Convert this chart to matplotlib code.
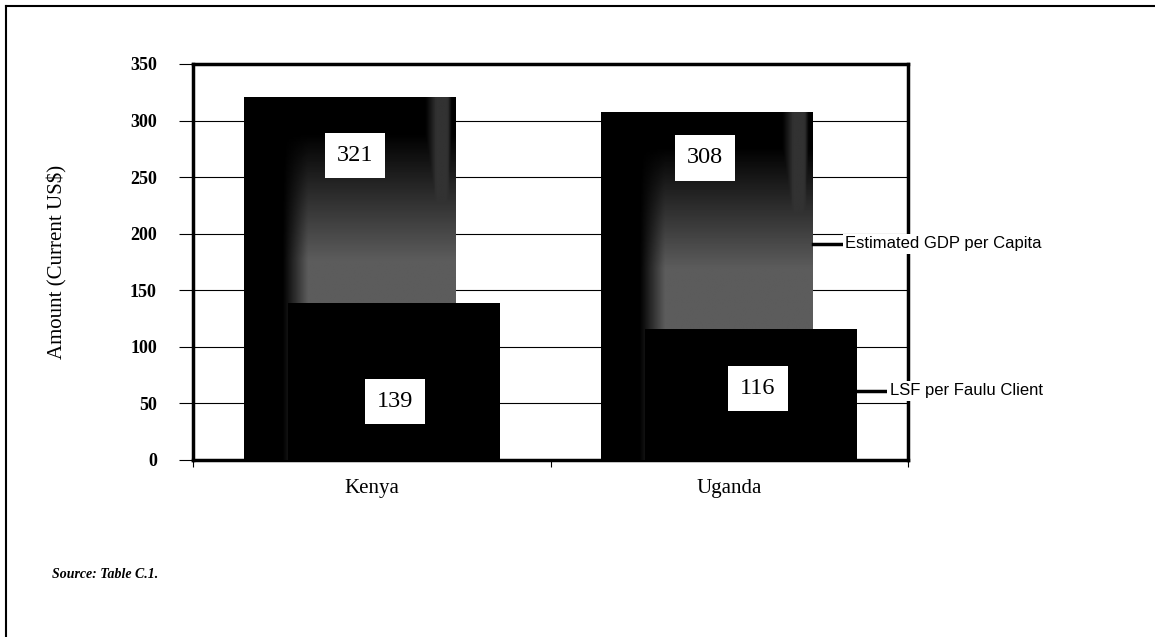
import matplotlib
matplotlib.use('Agg')
import matplotlib.pyplot as plt
from matplotlib.lines import Line2D
import numpy as np

# data
categories = ['Kenya', 'Uganda']
gdp_per_capita = [321, 308]
lsf_per_client = [139, 116]
series_names = ['Estimated GDP per Capita', 'LSF per Faulu Client']
y_ticks = [0, 50, 100, 150, 200, 250, 300, 350]

# label placement (data coords), not data
gdp_label_pos = [(0.453, 269), (1.432, 267)]
lsf_label_pos = [(0.565, 52), (1.580, 63)]
leader_y = [191, 61]

SERIF = 'Liberation Serif'
SANS = 'Liberation Sans'

fig = plt.figure(figsize=(11.55, 6.37), dpi=100)
ax = fig.add_axes([193/1155, 1 - 460/637, 715/1155, 396/637])

x = np.arange(len(categories)) + 0.5
width = 0.593
shift = 0.062

gdp_bars = ax.bar(x - shift, gdp_per_capita, width, color='black', zorder=2)
lsf_bars = ax.bar(x + shift, lsf_per_client, width, color='black', zorder=4)

# scanned-looking grey shading inside the GDP bars
ny, nx = 200, 120
yf = np.linspace(1, 0, ny)[:, None]
xf = np.linspace(0, 1, nx)[None, :]
hx = np.clip((xf - 0.18) / 0.12, 0, 1)
vy = np.clip((0.90 - yf) / 0.35, 0, 1)
edge = np.clip((xf - 0.86) / 0.05, 0, 1) * np.clip((0.985 - xf) / 0.02, 0, 1)
shade = 0.36 * hx * np.maximum(vy, 0.55 * edge)
for bar in gdp_bars:
    x0, h = bar.get_x(), bar.get_height()
    im = ax.imshow(shade, extent=(x0, x0 + bar.get_width(), 0, h), cmap='gray',
                   vmin=0, vmax=1, aspect='auto', interpolation='bilinear', zorder=3)
    im.set_clip_path(bar)

# value boxes
box = dict(boxstyle='square,pad=0.5', fc='white', ec='none')
for (px, py), v in zip(gdp_label_pos, gdp_per_capita):
    ax.text(px, py, str(v), ha='center', va='center', fontsize=17.5, family=SERIF,
            bbox=box, zorder=6)
for (px, py), v in zip(lsf_label_pos, lsf_per_client):
    ax.text(px, py, str(v), ha='center', va='center', fontsize=17.5, family=SERIF,
            bbox=box, zorder=6)

# series labels with leader lines off the Uganda bars
for bars, name, ly in zip([gdp_bars, lsf_bars], series_names, leader_y):
    b = bars[-1]
    xr = b.get_x() + b.get_width()
    ax.plot([xr, xr + 0.09], [ly, ly], color='black', lw=2.5, clip_on=False, zorder=5)
    ax.text(xr + 0.09, ly, name, ha='left', va='center', fontsize=12, family=SANS,
            bbox=dict(boxstyle='square,pad=0.15', fc='white', ec='none'),
            clip_on=False, zorder=7)

ax.set_xlim(0, len(categories))
ax.set_ylim(0, 350)

ax.set_yticks(y_ticks)
ax.set_yticklabels([str(t) for t in y_ticks], family=SERIF, fontweight='bold', fontsize=13)
ax.tick_params(axis='y', direction='out', length=10, width=0.8, pad=16)
ax.yaxis.grid(True, color='black', lw=0.8)
ax.set_axisbelow(True)

ax.set_xticks([0, 1, 2])
ax.set_xticklabels([])
ax.tick_params(axis='x', which='major', direction='out', length=5, width=0.8)
ax.set_xticks(x, minor=True)
ax.set_xticklabels(categories, minor=True, family=SERIF, fontsize=15)
ax.tick_params(axis='x', which='minor', length=0, pad=14)

ax.set_ylabel(r'Amount (Current US\$)', family=SERIF, fontsize=15)
ax.yaxis.set_label_coords(-0.175, 0.5)

for s in ax.spines.values():
    s.set_linewidth(2.5)

# outer frame (top and left only)
fig.add_artist(Line2D([6/1155, 1], [1 - 6/637, 1 - 6/637], transform=fig.transFigure,
                      color='black', lw=1.5))
fig.add_artist(Line2D([6/1155, 6/1155], [0, 1 - 6/637], transform=fig.transFigure,
                      color='black', lw=1.5))

fig.text(52/1155, 1 - 574/637, 'Source: Table C.1.', family=SERIF, style='italic',
         fontweight='bold', fontsize=10, va='center')

fig.savefig('out.png', dpi=100)
